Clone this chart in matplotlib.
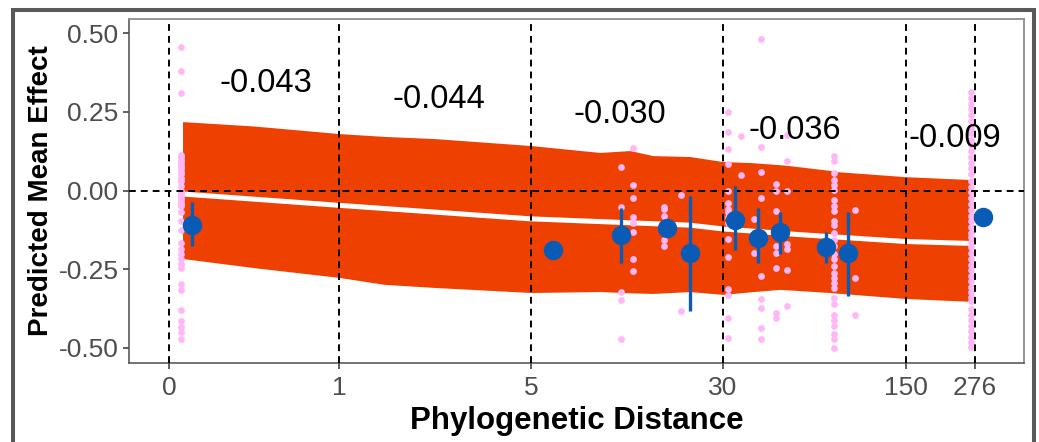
import matplotlib
matplotlib.use('Agg')
import matplotlib.pyplot as plt
from matplotlib.patches import Rectangle
import numpy as np

plt.rcParams['font.family'] = ['Liberation Sans', 'DejaVu Sans']

# axis: tick values and where they sit on the (custom) axis
tick_vals = [0, 1, 5, 30, 150, 276]
tick_pos = [0, 1, 2.129, 3.259, 4.335, 4.741]

# fitted line + confidence ribbon
band_x = [0.08, 0.5, 1, 1.94, 3, 5, 14, 17.9, 20.9, 25.7, 30, 47.7, 67.4, 74, 100, 104.8, 150, 267]
band_hi = [0.219, 0.205, 0.181, 0.172, 0.165, 0.143, 0.121, 0.127, 0.111, 0.108, 0.092, 0.089,
           0.082, 0.079, 0.064, 0.06, 0.044, 0.035]
band_lo = [-0.216, -0.245, -0.276, -0.298, -0.308, -0.324, -0.321, -0.325, -0.327, -0.321, -0.330,
           -0.322, -0.314, -0.316, -0.324, -0.326, -0.343, -0.352]
fit_x = [0.08, 1, 5, 25.7, 30, 80, 150, 267]
fit_y = [-0.011, -0.047, -0.09, -0.11, -0.122, -0.14, -0.162, -0.168]

# raw effect sizes (pink)
raw_x = [0.07, 16.7, 18.3, 22.3, 24.5, 33.3, 41.8, 50.3, 54.9, 64.8, 72, 102.8, 116.6, 268.7]
raw_y = [
    [0.455, 0.379, 0.31, 0.114, 0.106, 0.098, 0.09, 0.082, 0.074, 0.067, 0.059, 0.051, 0.04, 0.03,
     0.014, 0.0, -0.007, -0.015, -0.023, -0.031, -0.039, -0.044, -0.05, -0.069, -0.097, -0.126,
     -0.168, -0.187, -0.203, -0.219, -0.235, -0.245, -0.296, -0.316, -0.381, -0.413, -0.434,
     -0.448, -0.473],
    [0.075, -0.052, -0.323, -0.348, -0.471],
    [0.135, 0.016, -0.025, -0.084, -0.103, -0.131, -0.216, -0.256],
    [-0.052, -0.06, -0.081, -0.156, -0.177],
    [-0.013, -0.383],
    [0.251, 0.185, 0.133, 0.083, 0.0, -0.041, -0.06, -0.069, -0.084, -0.103, -0.153, -0.212,
     -0.314, -0.333, -0.404, -0.468],
    [0.172, 0.05],
    [-0.092, -0.197],
    [0.48, 0.139, 0.059, -0.023, -0.272, -0.346, -0.372, -0.436, -0.473],
    [0.022, -0.002, -0.066, -0.177, -0.198, -0.245, -0.388, -0.404],
    [0.178, 0.093, -0.002, -0.171, -0.187, -0.251, -0.367],
    [0.109, 0.093, 0.056, 0.035, 0.019, 0.003, -0.029, -0.05, -0.066, -0.097, -0.108, -0.134,
     -0.156, -0.177, -0.203, -0.219, -0.24, -0.261, -0.277, -0.293, -0.309, -0.341, -0.362,
     -0.394, -0.41, -0.431, -0.457, -0.473, -0.499],
    [-0.062, -0.277, -0.394],
    [0.314, 0.295, 0.275, 0.258, 0.24, 0.221, 0.2, 0.183, 0.162, 0.145, 0.125, 0.106, 0.088,
     0.07, 0.052, 0.03, 0.012, -0.006, -0.025, -0.043, -0.062, -0.08, -0.098, -0.117, -0.135,
     -0.149, -0.165, -0.181, -0.197, -0.219, -0.236, -0.254, -0.27, -0.288, -0.305, -0.322,
     -0.338, -0.352, -0.378, -0.395, -0.412, -0.43, -0.447, -0.464, -0.481, -0.498],
]

# mean effect per distance (blue)
mean_x = [0.135, 7.9, 16.8, 22.7, 25.7, 37.9, 52.9, 67.4, 97.5, 112, 290.6]
mean_y = [-0.108, -0.19, -0.14, -0.12, -0.197, -0.095, -0.15, -0.133, -0.181, -0.2, -0.083]
mean_lo = [-0.175, -0.19, -0.229, -0.12, -0.384, -0.19, -0.229, -0.203, -0.229, -0.336, -0.083]
mean_hi = [-0.035, -0.19, -0.057, -0.12, -0.016, 0.013, -0.054, -0.067, -0.133, -0.067, -0.083]

# slope labels
slope_txt = ['-0.043', '-0.044', '-0.030', '-0.036', '-0.009']
slope_x = [0.57, 3.08, 16.6, 77, 239]
slope_y = [0.34, 0.29, 0.24, 0.19, 0.165]


def fwd(x):
    x = np.asarray(x, dtype=float)
    s_lo = (tick_pos[1] - tick_pos[0]) / (tick_vals[1] - tick_vals[0])
    s_hi = (tick_pos[-1] - tick_pos[-2]) / (tick_vals[-1] - tick_vals[-2])
    y = np.interp(x, tick_vals, tick_pos)
    y = np.where(x < tick_vals[0], tick_pos[0] + (x - tick_vals[0]) * s_lo, y)
    y = np.where(x > tick_vals[-1], tick_pos[-1] + (x - tick_vals[-1]) * s_hi, y)
    return y


def inv(p):
    p = np.asarray(p, dtype=float)
    s_lo = (tick_vals[1] - tick_vals[0]) / (tick_pos[1] - tick_pos[0])
    s_hi = (tick_vals[-1] - tick_vals[-2]) / (tick_pos[-1] - tick_pos[-2])
    x = np.interp(p, tick_pos, tick_vals)
    x = np.where(p < tick_pos[0], tick_vals[0] + (p - tick_pos[0]) * s_lo, x)
    x = np.where(p > tick_pos[-1], tick_vals[-1] + (p - tick_pos[-1]) * s_hi, x)
    return x


fig = plt.figure(figsize=(10.39, 4.42), dpi=100)
ax = fig.add_axes([129 / 1039, 1 - 363 / 442, (1024 - 129) / 1039, (363 - 19) / 442])
ax.set_xscale('function', functions=(fwd, inv))

ax.fill_between(band_x, band_lo, band_hi, color='#EE4000', lw=0, zorder=1)
ax.plot(fit_x, fit_y, color='white', lw=3.6, solid_capstyle='butt', zorder=2)

px = []
py = []
for xv, col in zip(raw_x, raw_y):
    px += [xv] * len(col)
    py += col
ax.scatter(px, py, s=24, color='#FFB8F5', lw=0, zorder=3)

dash = (0, (3.5, 2.6))
for v in tick_vals:
    ax.axvline(v, color='black', lw=1.4, ls=dash, zorder=4)
ax.axhline(0, color='black', lw=1.4, ls=dash, zorder=4)

yerr = [np.array(mean_y) - np.array(mean_lo), np.array(mean_hi) - np.array(mean_y)]
ax.errorbar(mean_x, mean_y, yerr=yerr, fmt='o', ms=13, color='#0A5BB6',
            elinewidth=2.4, capsize=0, zorder=5)

for t, xv, yv in zip(slope_txt, slope_x, slope_y):
    ax.text(xv, yv, t, fontsize=23.5, ha='center', va='center', color='black', zorder=6)

ax.set_xlim(-0.235, 366)
ax.set_ylim(-0.548, 0.545)
ax.set_xticks(tick_vals)
ax.set_xticklabels([str(v) for v in tick_vals])
ax.set_yticks([-0.5, -0.25, 0, 0.25, 0.5])
ax.set_yticklabels(['-0.50', '-0.25', '0.00', '0.25', '0.50'])
ax.minorticks_off()
ax.tick_params(axis='both', labelsize=19, labelcolor='#4D4D4D', color='#333333',
               length=4.5, width=1.1)
ax.tick_params(axis='x', pad=5)
ax.tick_params(axis='y', pad=3)

ax.set_xlabel('Phylogenetic Distance', fontsize=22.5, fontweight='bold', labelpad=4)
ax.set_ylabel('Predicted Mean Effect', fontsize=20, fontweight='bold', labelpad=3)

for s in ['left', 'bottom']:
    ax.spines[s].set_color('#4D4D4D')
    ax.spines[s].set_linewidth(1.1)
for s in ['top', 'right']:
    ax.spines[s].set_color('#8C8C8C')
    ax.spines[s].set_linewidth(1.3)

frame = Rectangle((13 / 1039, -0.1), (1033.5 - 13) / 1039, 1.1 - 10.3 / 442,
                  transform=fig.transFigure, fill=False, edgecolor='#595959', lw=2.9,
                  clip_on=False)
fig.patches.append(frame)

fig.savefig('out.png', dpi=100)
